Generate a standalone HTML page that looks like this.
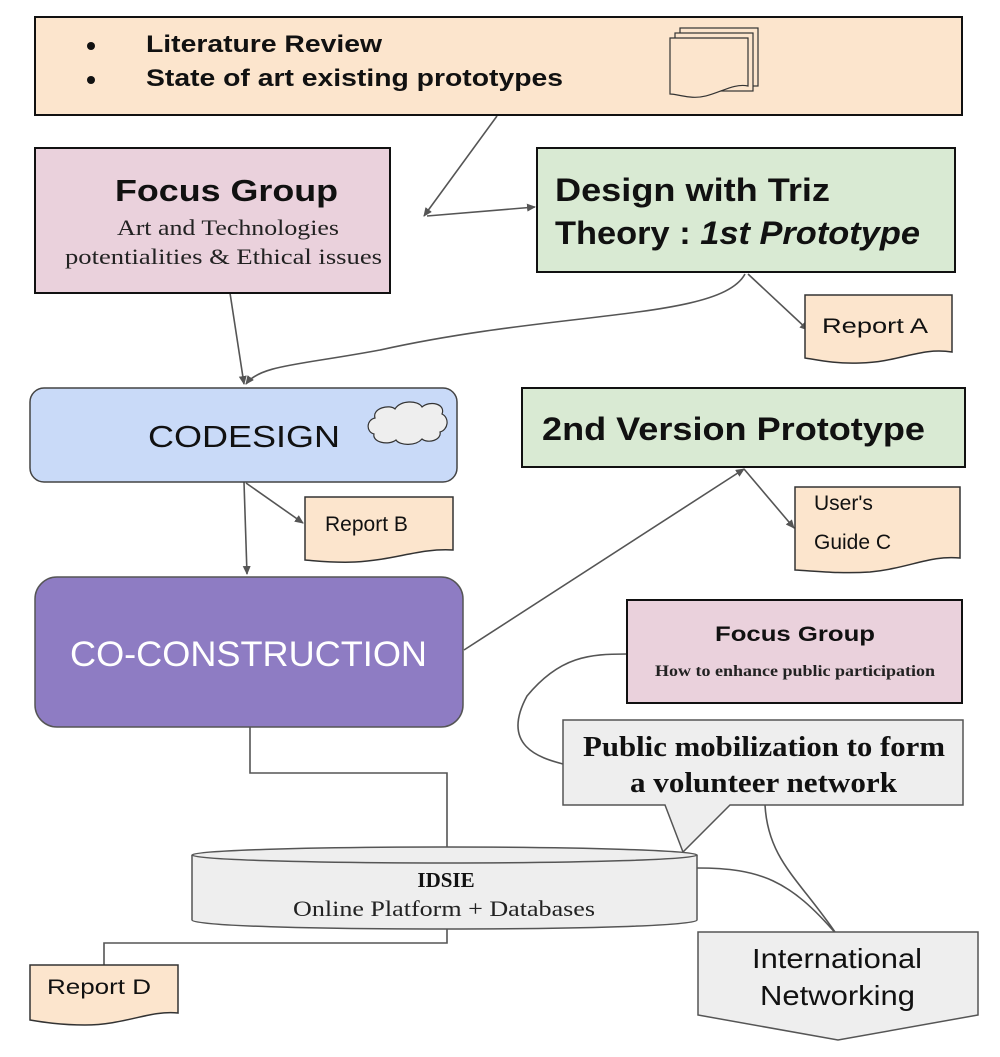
<!DOCTYPE html>
<html><head><meta charset="utf-8"><style>
html,body{margin:0;padding:0;background:#fff;}
svg{display:block;}
.s{font-family:"Liberation Sans",sans-serif;}
.r{font-family:"Liberation Serif",serif;}
</style></head><body>
<svg width="1000" height="1057" viewBox="0 0 1000 1057" xmlns="http://www.w3.org/2000/svg">
<defs>
<marker id="a" markerWidth="10" markerHeight="10" refX="8" refY="4" orient="auto" markerUnits="userSpaceOnUse"><path d="M0,0 L9,4 L0,8 Z" fill="#555"/></marker>
</defs>
<g stroke="#555" stroke-width="1.6" fill="none">
<line x1="497" y1="116" x2="424" y2="216" marker-end="url(#a)"/>
<line x1="427" y1="216" x2="535" y2="207" marker-end="url(#a)"/>
<line x1="230" y1="293" x2="244" y2="384" marker-end="url(#a)"/>
<path d="M745,274 C720,320 560,310 380,350 C300,365 260,365 246,384" marker-end="url(#a)"/>
<line x1="748" y1="274" x2="808" y2="330" marker-end="url(#a)"/>
<line x1="244" y1="482" x2="247" y2="574" marker-end="url(#a)"/>
<line x1="246" y1="483" x2="303" y2="523" marker-end="url(#a)"/>
<line x1="464" y1="650" x2="744" y2="469" marker-end="url(#a)"/>
<line x1="744" y1="469" x2="794" y2="528" marker-end="url(#a)"/>
<polyline points="250,727 250,773 447,773 447,850"/>
<path d="M627,654 C590,654 560,656 527,696 C500,746 540,758 563,764"/>
<polyline points="447,925 447,943 104,943 104,965"/>
<path d="M697,868 C760,868 790,880 837,935"/>
<path d="M765,805 C768,860 800,880 837,935"/>
</g>
<rect x="35" y="17" width="927" height="98" fill="#fce5cd" stroke="#111" stroke-width="2"/>
<circle cx="91" cy="46" r="4" fill="#111"/>
<circle cx="91" cy="80" r="4" fill="#111"/>
<text class="s" x="146" y="52" font-size="24" font-weight="bold" fill="#111" textLength="236" lengthAdjust="spacingAndGlyphs">Literature Review</text>
<text class="s" x="146" y="86" font-size="24" font-weight="bold" fill="#111" textLength="417" lengthAdjust="spacingAndGlyphs">State of art existing prototypes</text>
<g fill="#fce5cd" stroke="#333" stroke-width="1.2">
<rect x="680" y="28" width="78" height="58"/>
<rect x="675" y="33" width="78" height="58"/>
<path d="M670,38 H748 V86 C730,82 712,100 690,97 C680,96 675,94 670,94 Z"/>
</g>
<rect x="35" y="148" width="355" height="145" fill="#ead1dc" stroke="#111" stroke-width="2"/>
<text class="s" x="115" y="201" font-size="31" font-weight="bold" fill="#111" textLength="223" lengthAdjust="spacingAndGlyphs">Focus Group</text>
<text class="r" x="117" y="235" font-size="22" fill="#222" textLength="222" lengthAdjust="spacingAndGlyphs">Art and Technologies</text>
<text class="r" x="65" y="264" font-size="22" fill="#222" textLength="317" lengthAdjust="spacingAndGlyphs">potentialities &amp; Ethical issues</text>
<rect x="537" y="148" width="418" height="124" fill="#d9ead3" stroke="#111" stroke-width="2"/>
<text class="s" x="555" y="201" font-size="32" font-weight="bold" fill="#111" textLength="275" lengthAdjust="spacingAndGlyphs">Design with Triz</text>
<text class="s" x="555" y="244" font-size="32" font-weight="bold" fill="#111" textLength="365" lengthAdjust="spacingAndGlyphs">Theory : <tspan font-style="italic">1st Prototype</tspan></text>
<path d="M805,295 H952 V352 C920,347 900,362 860,363 C835,364 818,360 805,358 Z" fill="#fce5cd" stroke="#333" stroke-width="1.5"/>
<text class="s" x="822" y="333" font-size="21" fill="#111" textLength="106" lengthAdjust="spacingAndGlyphs">Report A</text>
<rect x="30" y="388" width="427" height="94" rx="14" fill="#c9daf8" stroke="#444" stroke-width="1.5"/>
<text class="s" x="148" y="447" font-size="31" fill="#111" textLength="192" lengthAdjust="spacingAndGlyphs">CODESIGN</text>
<path d="M375,418 C372,408 390,404 395,409 C400,400 418,400 422,407 C430,400 446,404 442,414 C450,418 448,430 440,432 C442,440 428,444 422,439 C416,446 400,446 396,440 C388,446 372,442 374,434 C366,432 366,420 375,418 Z" fill="#eee" stroke="#333" stroke-width="1.2"/>
<rect x="522" y="388" width="443" height="79" fill="#d9ead3" stroke="#111" stroke-width="2"/>
<text class="s" x="542" y="440" font-size="32" font-weight="bold" fill="#111" textLength="383" lengthAdjust="spacingAndGlyphs">2nd Version Prototype</text>
<path d="M795,487 H960 V558 C930,555 910,568 870,572 C840,574 815,571 795,570 Z" fill="#fce5cd" stroke="#333" stroke-width="1.5"/>
<text class="s" x="814" y="510" font-size="21" fill="#111">User's</text>
<text class="s" x="814" y="549" font-size="21" fill="#111">Guide C</text>
<path d="M305,497 H453 V550 C420,548 395,560 355,562 C335,563 318,561 305,560 Z" fill="#fce5cd" stroke="#333" stroke-width="1.5"/>
<text class="s" x="325" y="531" font-size="21" fill="#111">Report B</text>
<rect x="35" y="577" width="428" height="150" rx="22" fill="#8e7cc3" stroke="#555" stroke-width="1.5"/>
<text class="s" x="70" y="666" font-size="35" fill="#fff" textLength="357" lengthAdjust="spacingAndGlyphs">CO-CONSTRUCTION</text>
<rect x="627" y="600" width="335" height="103" fill="#ead1dc" stroke="#111" stroke-width="2"/>
<text class="s" x="715" y="641" font-size="21" font-weight="bold" fill="#111" textLength="160" lengthAdjust="spacingAndGlyphs">Focus Group</text>
<text class="r" x="655" y="676" font-size="16" font-weight="bold" fill="#222" textLength="280" lengthAdjust="spacingAndGlyphs">How to enhance public participation</text>
<path d="M563,720 H963 V805 H730 L683,852 L665,805 H563 Z" fill="#eeeeee" stroke="#555" stroke-width="1.5"/>
<text class="r" x="583" y="756" font-size="29" font-weight="bold" fill="#111" textLength="362" lengthAdjust="spacingAndGlyphs">Public mobilization to form</text>
<text class="r" x="630" y="792" font-size="29" font-weight="bold" fill="#111" textLength="267" lengthAdjust="spacingAndGlyphs">a volunteer network</text>
<path d="M192,855 V920 C192,932 697,932 697,920 V855" fill="#eeeeee" stroke="#555" stroke-width="1.5"/>
<ellipse cx="444.5" cy="855" rx="252.5" ry="8" fill="#eeeeee" stroke="#555" stroke-width="1.5"/>
<text class="r" x="446" y="887" font-size="21" font-weight="bold" text-anchor="middle" fill="#111">IDSIE</text>
<text class="r" x="293" y="916" font-size="22" fill="#222" textLength="302" lengthAdjust="spacingAndGlyphs">Online Platform + Databases</text>
<path d="M30,965 H178 V1013 C150,1010 125,1025 85,1025 C60,1025 42,1022 30,1020 Z" fill="#fce5cd" stroke="#333" stroke-width="1.5"/>
<text class="s" x="47" y="994" font-size="21" fill="#111" textLength="104" lengthAdjust="spacingAndGlyphs">Report D</text>
<path d="M698,932 H978 V1015 L838,1040 L698,1015 Z" fill="#eeeeee" stroke="#555" stroke-width="1.5"/>
<text class="s" x="752" y="968" font-size="28" fill="#111" textLength="170" lengthAdjust="spacingAndGlyphs">International</text>
<text class="s" x="760" y="1005" font-size="28" fill="#111" textLength="155" lengthAdjust="spacingAndGlyphs">Networking</text>
</svg>
</body></html>
